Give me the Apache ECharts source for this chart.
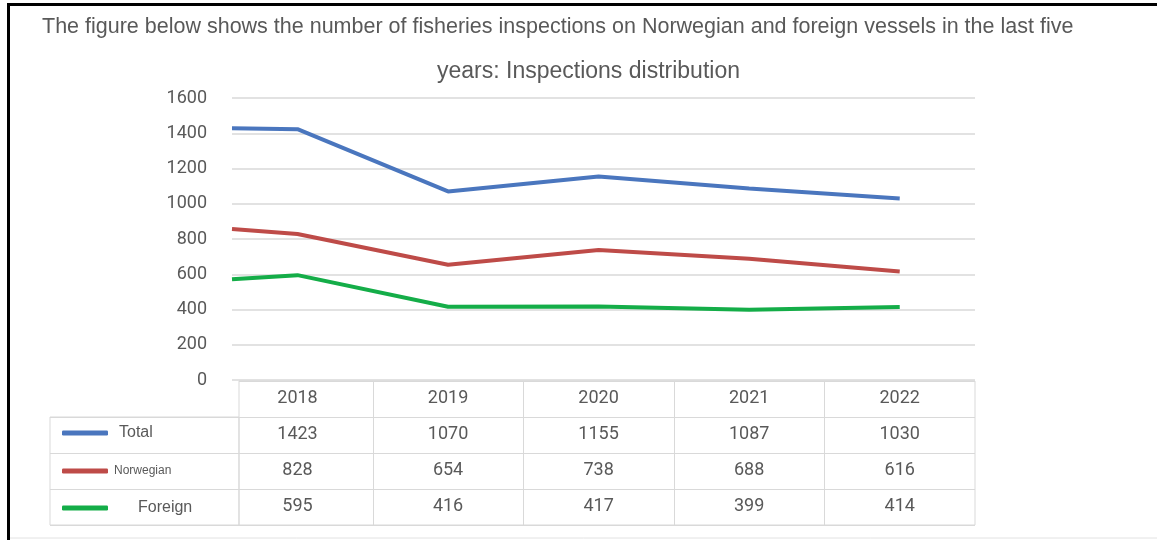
<!DOCTYPE html>
<html>
<head>
<meta charset="utf-8">
<script src="https://cdn.jsdelivr.net/npm/echarts@6/dist/echarts.min.js"></script>
<style>
html,body{margin:0;padding:0;background:#fff;}
#chart{width:1157px;height:540px;}
</style>
</head>
<body>
<div id="chart"></div>
<script>
// ---- data ----
const titleLine1 = 'The figure below shows the number of fisheries inspections on Norwegian and foreign vessels in the last five';
const titleLine2 = 'years: Inspections distribution';
const years = [2018, 2019, 2020, 2021, 2022];
const seriesNames = ['Total', 'Norwegian', 'Foreign'];
const total = [1423, 1070, 1155, 1087, 1030];
const norwegian = [828, 654, 738, 688, 616];
const foreign = [595, 416, 417, 399, 414];
// value where each line begins at the left edge of the plot (before 2018)
const leadValues = [1428, 857, 571];
const yTicks = [0, 200, 400, 600, 800, 1000, 1200, 1400, 1600];

// ---- layout ----
const xStart = 2017.565, xEnd = 2022.5, tableXMin = 2017.611;
const colors = ['#4a76be', '#be4b48', '#14ad48'];
const textGray = '#595959';
const gridGray = '#d9d9d9';
const numFont = 'Roboto';
const seriesValues = [total, norwegian, foreign];

const chart = echarts.init(document.getElementById('chart'));

const rowH = 36;
const xAxes = [];
// header row (years) + one row per series, all on the line chart's x scale
xAxes.push({
  type: 'value', gridIndex: 0, min: xStart, max: xEnd, position: 'bottom',
  axisLine: {show: false}, splitLine: {show: false},
  axisTick: {show: false, customValues: years},
  axisLabel: {customValues: years, margin: 9, color: textGray, fontFamily: numFont, fontSize: 18,
    formatter: v => String(Math.round(v))}
});
seriesValues.forEach((vals, k) => {
  xAxes.push({
    type: 'value', gridIndex: 0, min: xStart, max: xEnd, position: 'bottom', offset: rowH * (k + 1),
    axisLine: {show: false}, splitLine: {show: false},
    axisTick: {show: false, customValues: years},
    axisLabel: {customValues: years, margin: 9, color: textGray, fontFamily: numFont, fontSize: 18,
      formatter: v => String(vals[years.indexOf(Math.round(v))])}
  });
});
// table cell grid
xAxes.push({
  type: 'value', gridIndex: 1, min: tableXMin, max: xEnd,
  axisLine: {show: false}, axisLabel: {show: false},
  axisTick: {show: false, customValues: years.slice(0, -1).map(y => y + 0.5)},
  splitLine: {show: true, lineStyle: {color: gridGray, width: 1}}
});
// legend column grid
xAxes.push({
  type: 'value', gridIndex: 2, min: 0, max: 1,
  axisLine: {show: false}, axisLabel: {show: false}, axisTick: {show: false}, splitLine: {show: false}
});

const legendTops = [420, 460, 495];
const legendFont = [16, 12, 16];
const legendPad = [6, 1, 25];

const option = {
  backgroundColor: '#fff',
  animation: false,
  title: [
    {text: titleLine1, left: 37, top: 11,
      textStyle: {fontFamily: 'Liberation Sans', fontSize: 21.5, fontWeight: 'normal', color: textGray}},
    {text: titleLine2, left: 432, top: 55,
      textStyle: {fontFamily: 'Liberation Sans', fontSize: 23, fontWeight: 'normal', color: textGray}}
  ],
  legend: seriesNames.map((name, i) => ({
    data: [name], left: 57, top: legendTops[i], orient: 'vertical',
    icon: 'roundRect', itemWidth: 46, itemHeight: 5, selectedMode: false,
    textStyle: {fontFamily: 'Liberation Sans', fontSize: legendFont[i], color: textGray,
      padding: [0, 0, 0, legendPad[i]]}
  })),
  grid: [
    {left: 232, right: 182, top: 98, bottom: 160},
    {left: 239, right: 182, top: 381, bottom: 15, show: true, borderColor: gridGray, borderWidth: 1},
    {left: 50, width: 189, top: 381 + rowH, bottom: 15, show: true, borderColor: gridGray, borderWidth: 1}
  ],
  xAxis: xAxes,
  yAxis: [
    {type: 'value', gridIndex: 0, min: yTicks[0], max: yTicks[yTicks.length - 1], interval: 200,
      axisLine: {show: false}, axisTick: {show: false},
      axisLabel: {margin: 25, color: textGray, fontFamily: numFont, fontSize: 18, formatter: v => String(v)},
      splitLine: {show: true, lineStyle: {color: gridGray, width: 1.5}}},
    {type: 'category', gridIndex: 1, inverse: true, data: ['year'].concat(seriesNames),
      axisLine: {show: false}, axisTick: {show: false}, axisLabel: {show: false},
      splitLine: {show: true, interval: 0, lineStyle: {color: gridGray, width: 1}}},
    {type: 'category', gridIndex: 2, inverse: true, data: seriesNames,
      axisLine: {show: false}, axisTick: {show: false}, axisLabel: {show: false},
      splitLine: {show: true, interval: 0, lineStyle: {color: gridGray, width: 1}}}
  ],
  series: seriesNames.map((name, i) => ({
    name: name, type: 'line', xAxisIndex: 0, yAxisIndex: 0,
    symbol: 'none', silent: true,
    lineStyle: {color: colors[i], width: 4},
    itemStyle: {color: colors[i]},
    data: [[xStart, leadValues[i]]].concat(years.map((y, j) => [y, seriesValues[i][j]]))
  })),
  graphic: [
    {type: 'rect', shape: {x: 8.5, y: 4.5, width: 1160, height: 545},
      style: {fill: 'none', stroke: '#000', lineWidth: 3}, z: 100},
    {type: 'line', shape: {x1: 10, y1: 538, x2: 1157, y2: 538},
      style: {stroke: '#e2e2e2', lineWidth: 1}, z: 100}
  ]
};
chart.setOption(option);
</script>
</body>
</html>
